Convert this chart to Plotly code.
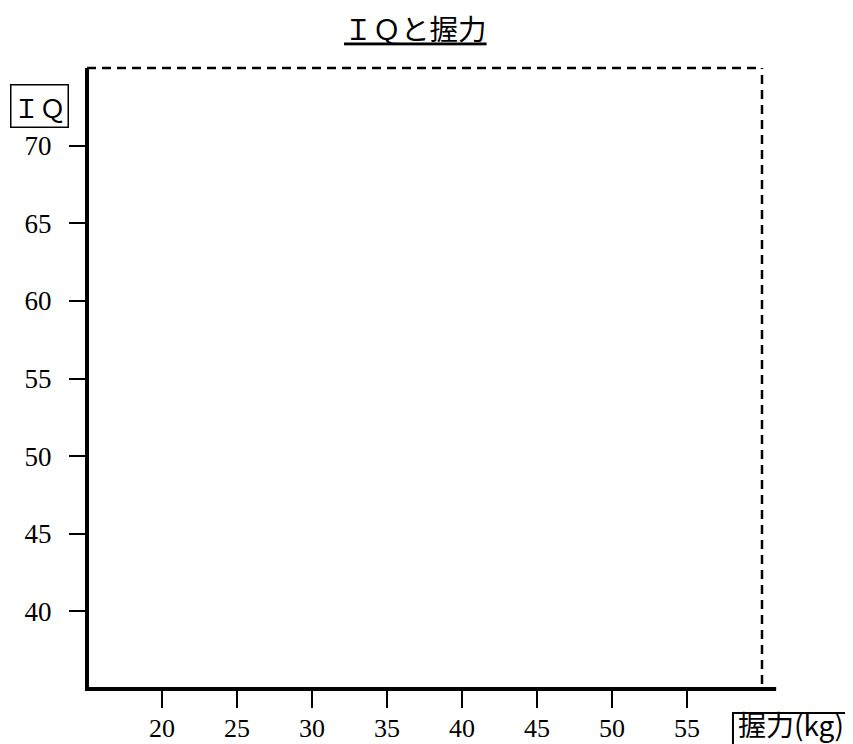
import plotly.graph_objects as go

# Data (the reference chart shows an empty scatter plot)
grip_kg = []
iq = []
x_tick_values = [20, 25, 30, 35, 40, 45, 50, 55]
y_tick_values = [40, 45, 50, 55, 60, 65, 70]
title_text = "ＩＱと握力"
x_label = "握力(kg)"
y_label = "ＩＱ"

fig = go.Figure(go.Scatter(x=grip_kg, y=iq, mode="markers",
                           marker=dict(color="black", size=8)))

serif = "Liberation Serif, Times New Roman, serif"
cjk = "Noto Sans CJK JP, Noto Sans, sans-serif"

fig.update_layout(
    width=845, height=736,
    margin=dict(l=79, r=91, t=60, b=55, autoexpand=False),
    plot_bgcolor="white", paper_bgcolor="white",
    showlegend=False,
    title=dict(text="<u>" + title_text + "</u>", x=0.482, xanchor="center",
               y=1 - 22.5 / 736, yanchor="middle", yref="container",
               font=dict(family=cjk, size=28.5, color="black")),
    xaxis=dict(range=[15, 60], tickvals=x_tick_values, ticks="outside",
               ticklen=18, tickwidth=2, tickcolor="black", automargin=False,
               ticklabelstandoff=-2,
               showline=False, showgrid=False, zeroline=False,
               tickfont=dict(family=serif, size=26, color="black"), fixedrange=True),
    yaxis=dict(range=[35, 75], tickvals=y_tick_values, ticks="outside",
               ticklen=17, tickwidth=2, tickcolor="black", automargin=False,
               ticklabelstandoff=12,
               showline=False, showgrid=False, zeroline=False,
               tickfont=dict(family=serif, size=27, color="black"), fixedrange=True),
    shapes=[
        # left solid axis
        dict(type="line", xref="paper", yref="paper", x0=0, x1=0, y0=0, y1=1,
             line=dict(color="black", width=4)),
        # bottom solid axis (extends beyond the right)
        dict(type="line", xref="paper", yref="paper", x0=-0.003, x1=1.021, y0=0, y1=0,
             line=dict(color="black", width=4)),
        # dashed top
        dict(type="line", xref="paper", yref="paper", x0=0, x1=1, y0=1, y1=1,
             line=dict(color="black", width=2.5, dash="9px,6px")),
        # dashed right
        dict(type="line", xref="paper", yref="paper", x0=1, x1=1, y0=0.008, y1=1,
             line=dict(color="black", width=2.5, dash="9px,6px")),
        # box around the x-axis label (runs off the bottom edge)
        dict(type="rect", xref="paper", yref="paper", x0=0.957, x1=1.1304,
             y0=-0.0386, y1=-0.1, line=dict(color="black", width=2),
             fillcolor="white", layer="above"),
    ],
    annotations=[
        dict(text=y_label, xref="paper", yref="paper", x=-0.114, y=0.939,
             xanchor="left", yanchor="middle", showarrow=False,
             font=dict(family=cjk, size=26, color="black"),
             bordercolor="black", borderwidth=1.5, borderpad=2, bgcolor="white"),
        dict(text=x_label, xref="paper", yref="paper", x=1.0437, y=-0.0556,
             xanchor="center", yanchor="middle", showarrow=False,
             font=dict(family=cjk, size=28, color="black")),
    ],
)

fig.write_html("out.html")
